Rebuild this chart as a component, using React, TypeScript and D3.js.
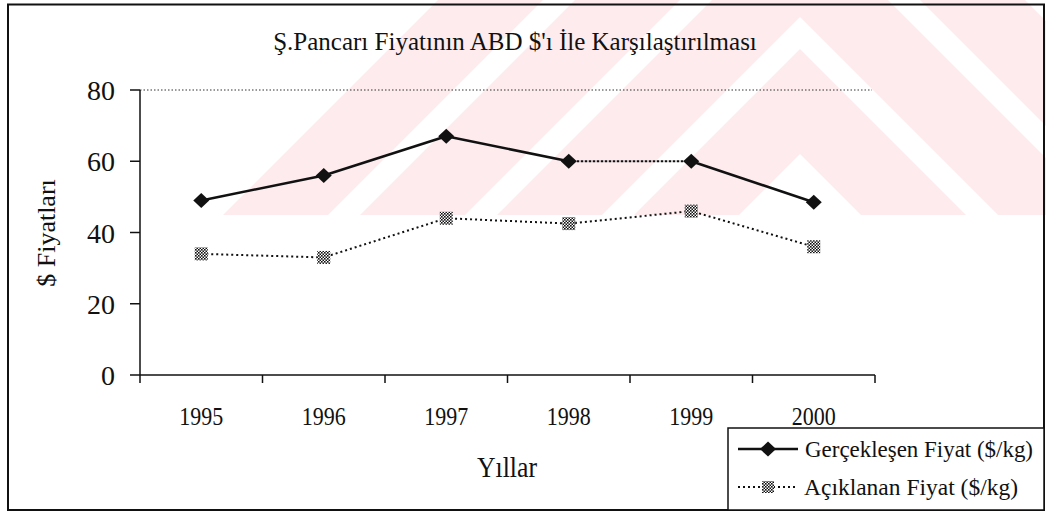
import React from 'react';
import * as d3 from 'd3';

const years = ['1995', '1996', '1997', '1998', '1999', '2000'];
const realized = [49, 56, 67, 60, 60, 48.5];
const announced = [34, 33, 44, 42.5, 46, 36];
const yTicks = [0, 20, 40, 60, 80];
const chartTitle = "Ş.Pancarı Fiyatının ABD $'ı İle Karşılaştırılması";
const yTitle = '$ Fiyatları';
const xTitle = 'Yıllar';
const seriesNames = ['Gerçekleşen Fiyat ($/kg)', 'Açıklanan Fiyat ($/kg)'];

const FONT = '"Liberation Serif", "Times New Roman", serif';

export default function App() {
  const W = 1046;
  const H = 515;
  const x = d3.scaleBand<string>().domain(years).range([140, 875]);
  const y = d3.scaleLinear().domain([0, 80]).range([375, 90]);
  const cx = (d: string) => (x(d) as number) + x.bandwidth() / 2;
  const p1: [number, number][] = years.map((d, i) => [cx(d), y(realized[i])]);
  const p2: [number, number][] = years.map((d, i) => [cx(d), y(announced[i])]);
  const line = d3.line<[number, number]>();

  // watermark chevrons (decorative)
  const apex = 800, w = 105, period = 137, cut = 215;
  const chevrons = [0, 1, 2, 3].map((k) => {
    const xk = 223 + period * k;
    const yk = xk - apex + cut;
    const d = cut - yk;
    return `M${apex - d},${cut} L${apex},${yk} L${apex + d},${cut} L${apex + d - w},${cut} L${apex},${yk + w} L${apex - d + w},${cut} Z`;
  });

  const diamond = (px: number, py: number) =>
    `M${px},${py - 7.5} L${px + 8},${py} L${px},${py + 7.5} L${px - 8},${py} Z`;

  return (
    <svg width={W} height={H} style={{ position: 'absolute', left: 0, top: 0, background: '#fff' }}>
      <defs>
        <clipPath id="wmclip">
          <rect x={0} y={0} width={W} height={cut} />
        </clipPath>
        <pattern id="checker" width={3} height={3} patternUnits="userSpaceOnUse">
          <rect width={3} height={3} fill="#fff" />
          <rect x={0} y={0} width={1.6} height={1.6} fill="#111" />
          <rect x={1.5} y={1.5} width={1.6} height={1.6} fill="#111" />
        </pattern>
      </defs>
      <rect x={0} y={0} width={W} height={H} fill="#fff" />
      <g clipPath="url(#wmclip)">
        {chevrons.map((d, i) => (
          <path key={i} d={d} fill="#fdebee" />
        ))}
      </g>

      {/* outer frame */}
      <rect x={8} y={4.5} width={1036} height={505.5} fill="none" stroke="#111" strokeWidth={2} />

      {/* title */}
      <text x={515} y={50} textAnchor="middle" fontFamily={FONT} fontSize={25} fill="#111">
        {chartTitle}
      </text>

      {/* gridline at 80 */}
      <line x1={140} x2={872} y1={y(80)} y2={y(80)} stroke="#333" strokeWidth={1} strokeDasharray="1.5,2" />

      {/* y axis */}
      <line x1={140} x2={140} y1={y(80)} y2={y(0)} stroke="#111" strokeWidth={1.5} />
      {yTicks.map((t) => (
        <g key={t}>
          <line x1={130} x2={140} y1={y(t)} y2={y(t)} stroke="#111" strokeWidth={1.5} />
          <text x={115} y={y(t) + 10} textAnchor="end" fontFamily={FONT} fontSize={28} fill="#111">
            {t}
          </text>
        </g>
      ))}

      {/* x axis */}
      <line x1={140} x2={875} y1={y(0)} y2={y(0)} stroke="#111" strokeWidth={1.5} />
      {[...years.map((d) => x(d) as number), 875].map((t, i) => (
        <line key={i} x1={t} x2={t} y1={y(0)} y2={y(0) + 8} stroke="#111" strokeWidth={1.5} />
      ))}
      {years.map((d) => (
        <text key={d} x={cx(d)} y={425} textAnchor="middle" fontFamily={FONT} fontSize={25}
          textLength={44} lengthAdjust="spacingAndGlyphs" fill="#111">
          {d}
        </text>
      ))}

      {/* axis titles */}
      <text transform="translate(55,233) rotate(-90)" textAnchor="middle" fontFamily={FONT} fontSize={26} fill="#111">
        {yTitle}
      </text>
      <text x={507} y={477} textAnchor="middle" fontFamily={FONT} fontSize={30}
        textLength={60} lengthAdjust="spacingAndGlyphs" fill="#111">
        {xTitle}
      </text>

      {/* series 2: announced (dotted) */}
      <path d={line(p2) as string} fill="none" stroke="#111" strokeWidth={2} strokeDasharray="2,3" />
      {p2.map(([px, py], i) => (
        <rect key={i} x={px - 6.5} y={py - 6.5} width={13} height={13} fill="url(#checker)" />
      ))}

      {/* series 1: realized (solid, 1998-1999 dotted) */}
      {p1.slice(0, -1).map((pt, i) => (
        <path key={i} d={line([pt, p1[i + 1]]) as string} fill="none" stroke="#111"
          strokeWidth={i === 3 ? 2 : 2.5} strokeDasharray={i === 3 ? '2.5,1.5' : undefined} />
      ))}
      {p1.map(([px, py], i) => (
        <path key={i} d={diamond(px, py)} fill="#111" />
      ))}

      {/* legend */}
      <rect x={728} y={428} width={316} height={82} fill="#fff" stroke="#111" strokeWidth={1.5} />
      <line x1={738} x2={798} y1={449} y2={449} stroke="#111" strokeWidth={2.5} />
      <path d={diamond(768, 449)} fill="#111" />
      <text x={805} y={457} fontFamily={FONT} fontSize={24} textLength={228}
        lengthAdjust="spacingAndGlyphs" fill="#111">
        {seriesNames[0]}
      </text>
      <line x1={738} x2={798} y1={487} y2={487} stroke="#111" strokeWidth={2} strokeDasharray="2,3" />
      <rect x={768 - 6} y={487 - 6} width={12} height={12} fill="url(#checker)" />
      <text x={804} y={495} fontFamily={FONT} fontSize={24} textLength={214}
        lengthAdjust="spacingAndGlyphs" fill="#111">
        {seriesNames[1]}
      </text>
    </svg>
  );
}
